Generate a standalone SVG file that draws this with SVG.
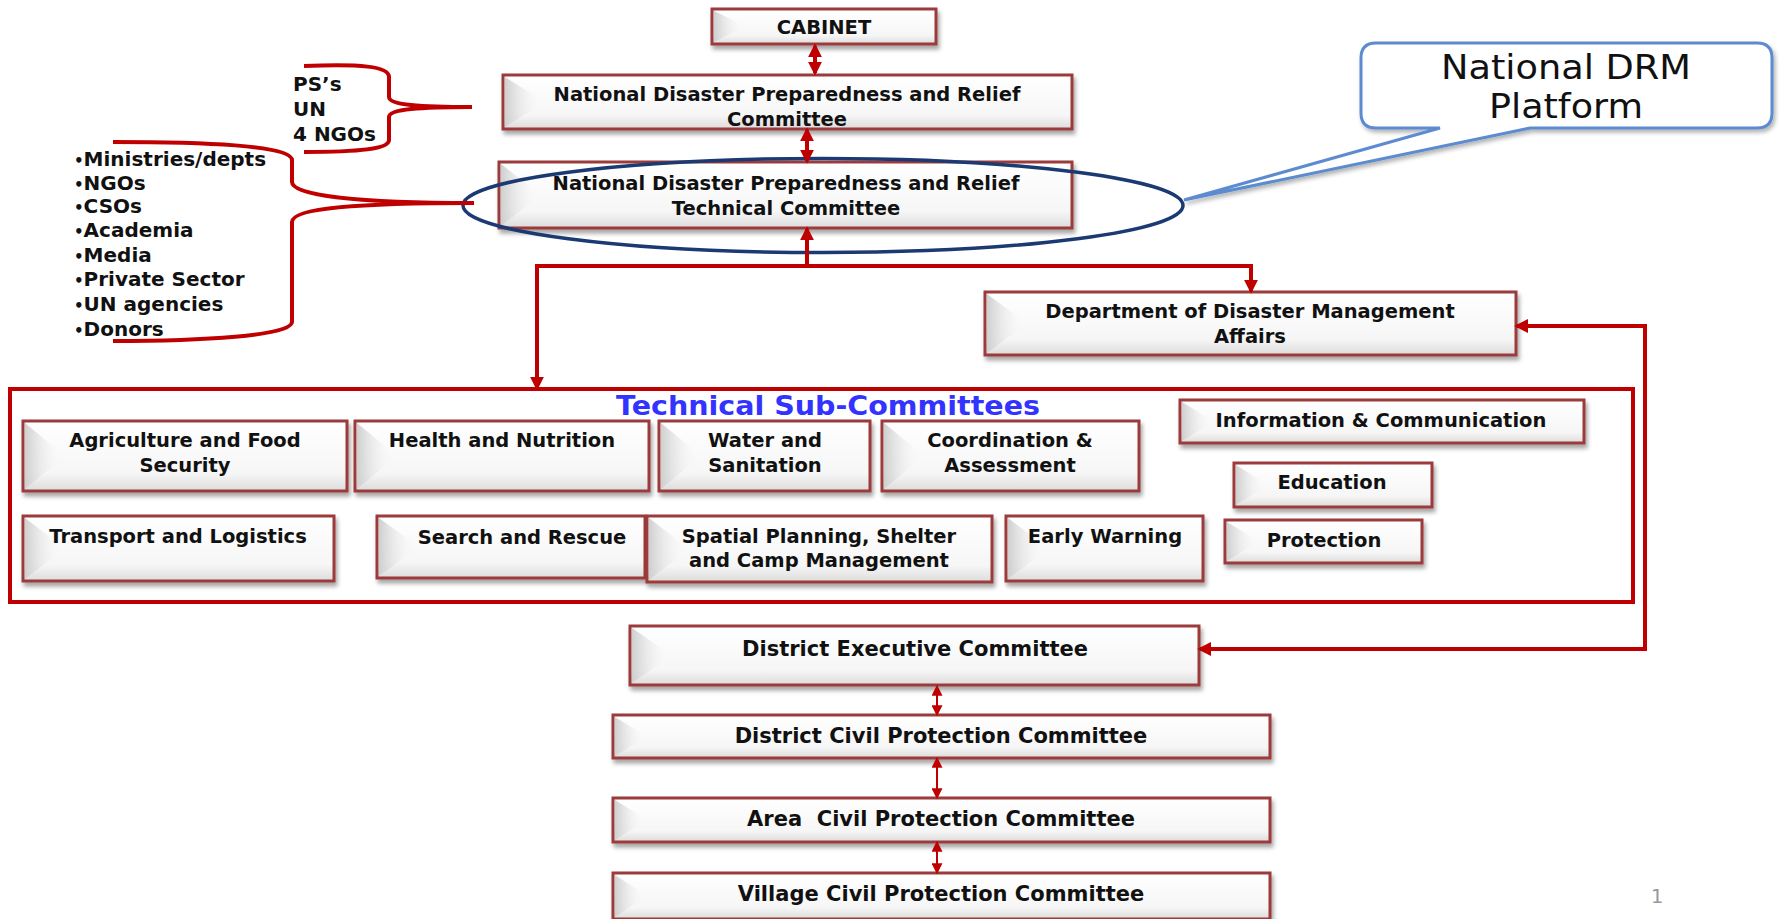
<svg xmlns="http://www.w3.org/2000/svg" width="1779" height="919" viewBox="0 0 1779 919">
<defs>
<linearGradient id="gFill" x1="0" y1="0" x2="0" y2="1">
<stop offset="0" stop-color="#ffffff"/><stop offset="0.75" stop-color="#f6f6f6"/><stop offset="1" stop-color="#dcdcdc"/>
</linearGradient>
<linearGradient id="gBev" x1="0" y1="0" x2="1" y2="0">
<stop offset="0" stop-color="#cfcfcf"/><stop offset="1" stop-color="#ffffff" stop-opacity="0"/>
</linearGradient>
<filter id="sh" x="-5%" y="-10%" width="110%" height="140%">
<feDropShadow dx="2" dy="4" stdDeviation="2" flood-color="#000" flood-opacity="0.35"/>
</filter>
<filter id="sh2" x="-5%" y="-10%" width="110%" height="140%">
<feDropShadow dx="2" dy="3" stdDeviation="2" flood-color="#000" flood-opacity="0.3"/>
</filter>
<marker id="ah" viewBox="0 0 10 10" refX="8" refY="5" markerWidth="14" markerHeight="16" markerUnits="userSpaceOnUse" orient="auto-start-reverse">
<path d="M0,0 L10,5 L0,10 z" fill="#C00000"/>
</marker>
<marker id="ahs" viewBox="0 0 10 10" refX="8" refY="5" markerWidth="12" markerHeight="11" markerUnits="userSpaceOnUse" orient="auto-start-reverse">
<path d="M0,0 L10,5 L0,10 z" fill="#C00000"/>
</marker>
<style>
.bx { fill: url(#gFill); stroke: #9B3B3A; stroke-width: 3; filter: url(#sh); }
.bev { fill: url(#gBev); }
.t { font-family: "DejaVu Sans", "Liberation Sans", sans-serif; font-weight: bold; font-size: 19.5px; fill: #111; text-anchor: middle; }
.tl { font-family: "DejaVu Sans", "Liberation Sans", sans-serif; font-weight: bold; font-size: 21px; fill: #111; text-anchor: middle; }
.side { font-family: "DejaVu Sans", "Liberation Sans", sans-serif; font-weight: bold; font-size: 20px; fill: #111; }
.bul { font-size: 15px; }
.con { fill: none; stroke: #C00000; stroke-width: 4; }
.conT { fill: none; stroke: #C00000; stroke-width: 2; }
.brace { fill: none; stroke: #C00000; stroke-width: 4; stroke-linejoin: round; }
</style>
</defs>
<rect width="1779" height="919" fill="#ffffff"/>

<g id="cabinet">
<rect class="bx" x="712" y="9" width="224" height="35"/>
<polygon class="bev" points="714,11 746,26.5 714,42"/>
<text class="t" x="824" y="34">CABINET</text>
</g>

<g id="ndprc">
<rect class="bx" x="503" y="75" width="569" height="54"/>
<polygon class="bev" points="505,77 545,102 505,127"/>
<text class="t" x="787" y="101">National Disaster Preparedness and Relief</text>
<text class="t" x="787" y="126">Committee</text>
</g>

<g id="ndprtc">
<rect class="bx" x="499" y="162" width="573" height="66"/>
<polygon class="bev" points="501,164 541,195 501,226"/>
<text class="t" x="786" y="190">National Disaster Preparedness and Relief</text>
<text class="t" x="786" y="215">Technical Committee</text>
</g>

<g id="ellipse">
<ellipse cx="823" cy="205.5" rx="360" ry="47" fill="none" stroke="#1B3A73" stroke-width="3.5"/>
</g>

<g id="drm-callout">
<path d="M1376,43 H1757 Q1772,43 1772,58 V113 Q1772,128 1757,128 H1530 L1184,200 L1440,128 H1376 Q1361,128 1361,113 V58 Q1361,43 1376,43 Z" fill="#ffffff" stroke="#5B8BD0" stroke-width="3" filter="url(#sh2)"/>
<text x="1566" y="79" font-family="DejaVu Sans, Liberation Sans, sans-serif" font-size="33" fill="#111" text-anchor="middle" textLength="250" lengthAdjust="spacingAndGlyphs">National DRM</text>
<text x="1566" y="118" font-family="DejaVu Sans, Liberation Sans, sans-serif" font-size="33" fill="#111" text-anchor="middle" textLength="154" lengthAdjust="spacingAndGlyphs">Platform</text>
</g>

<g id="dept">
<rect class="bx" x="985" y="292" width="531" height="63"/>
<polygon class="bev" points="987,294 1027,323.5 987,353"/>
<text class="t" x="1250" y="318">Department of Disaster Management</text>
<text class="t" x="1250" y="343">Affairs</text>
</g>

<g id="left-groups">
<text class="side" x="293" y="91">PS’s</text>
<text class="side" x="293" y="116">UN</text>
<text class="side" x="293" y="141">4 NGOs</text>
<path class="brace" d="M304,66 C360,64 389,66 389,77 L389,97 C389,105 420,107 472,107 M472,107 C420,107 389,109 389,117 L389,140 C389,149 360,152 304,152"/>
<text class="side" x="74" y="166"><tspan class="bul">•</tspan>Ministries/depts</text>
<text class="side" x="74" y="190"><tspan class="bul">•</tspan>NGOs</text>
<text class="side" x="74" y="213"><tspan class="bul">•</tspan>CSOs</text>
<text class="side" x="74" y="237"><tspan class="bul">•</tspan>Academia</text>
<text class="side" x="74" y="262"><tspan class="bul">•</tspan>Media</text>
<text class="side" x="74" y="286"><tspan class="bul">•</tspan>Private Sector</text>
<text class="side" x="74" y="311"><tspan class="bul">•</tspan>UN agencies</text>
<text class="side" x="74" y="336"><tspan class="bul">•</tspan>Donors</text>
<path class="brace" d="M113,142 C200,142 292,145 292,160 L292,182 C292,196 360,203 474,203 M474,203 C360,203 292,208 292,222 L292,322 C292,336 200,341 113,341"/>
</g>

<g id="sub-committees">
<rect x="10" y="389" width="1623" height="213" fill="none" stroke="#C00000" stroke-width="4"/>
<text x="828" y="415" font-family="DejaVu Sans, Liberation Sans, sans-serif" font-weight="bold" font-size="27" fill="#3333FF" text-anchor="middle" textLength="424" lengthAdjust="spacingAndGlyphs">Technical Sub-Committees</text>
</g>

<g id="agri">
<rect class="bx" x="23" y="421" width="324" height="70"/>
<polygon class="bev" points="25,423 65,456 25,489"/>
<text class="t" x="185" y="447">Agriculture and Food</text>
<text class="t" x="185" y="472">Security</text>
</g>
<g id="health">
<rect class="bx" x="355" y="421" width="294" height="70"/>
<polygon class="bev" points="357,423 397,456 357,489"/>
<text class="t" x="502" y="447">Health and Nutrition</text>
</g>
<g id="water">
<rect class="bx" x="659" y="421" width="211" height="70"/>
<polygon class="bev" points="661,423 701,456 661,489"/>
<text class="t" x="765" y="447">Water and</text>
<text class="t" x="765" y="472">Sanitation</text>
</g>
<g id="coord">
<rect class="bx" x="882" y="421" width="257" height="70"/>
<polygon class="bev" points="884,423 924,456 884,489"/>
<text class="t" x="1010" y="447">Coordination &amp;</text>
<text class="t" x="1010" y="472">Assessment</text>
</g>
<g id="info">
<rect class="bx" x="1180" y="400" width="404" height="43"/>
<polygon class="bev" points="1182,402 1214,421.5 1182,441"/>
<text class="t" x="1381" y="427">Information &amp; Communication</text>
</g>
<g id="education">
<rect class="bx" x="1234" y="463" width="198" height="44"/>
<polygon class="bev" points="1236,465 1268,485 1236,505"/>
<text class="t" x="1332" y="489">Education</text>
</g>
<g id="transport">
<rect class="bx" x="23" y="516" width="311" height="65"/>
<polygon class="bev" points="25,518 65,548.5 25,579"/>
<text class="t" x="178" y="543">Transport and Logistics</text>
</g>
<g id="search">
<rect class="bx" x="377" y="516" width="268" height="62"/>
<polygon class="bev" points="379,518 419,547 379,576"/>
<text class="t" x="522" y="544">Search and Rescue</text>
</g>
<g id="spatial">
<rect class="bx" x="647" y="516" width="345" height="66"/>
<polygon class="bev" points="649,518 689,549 649,580"/>
<text class="t" x="819" y="543">Spatial Planning, Shelter</text>
<text class="t" x="819" y="567">and Camp Management</text>
</g>
<g id="early">
<rect class="bx" x="1006" y="516" width="197" height="65"/>
<polygon class="bev" points="1008,518 1048,548.5 1008,579"/>
<text class="t" x="1105" y="543">Early Warning</text>
</g>
<g id="protection">
<rect class="bx" x="1225" y="520" width="197" height="43"/>
<polygon class="bev" points="1227,522 1259,541.5 1227,561"/>
<text class="t" x="1324" y="547">Protection</text>
</g>

<g id="dec">
<rect class="bx" x="630" y="626" width="569" height="59"/>
<polygon class="bev" points="632,628 672,655.5 632,683"/>
<text class="tl" x="915" y="656">District Executive Committee</text>
</g>
<g id="dcpc">
<rect class="bx" x="613" y="715" width="657" height="43"/>
<polygon class="bev" points="615,717 647,736.5 615,756"/>
<text class="tl" x="941" y="743">District Civil Protection Committee</text>
</g>
<g id="acpc">
<rect class="bx" x="613" y="798" width="657" height="44"/>
<polygon class="bev" points="615,800 647,820 615,840"/>
<text class="tl" x="941" y="826" style="white-space:pre">Area  Civil Protection Committee</text>
</g>
<g id="vcpc">
<rect class="bx" x="613" y="873" width="657" height="46"/>
<polygon class="bev" points="615,875 647,896 615,917"/>
<text class="tl" x="941" y="901">Village Civil Protection Committee</text>
</g>

<g id="page-number">
<text x="1657" y="903" font-family="DejaVu Sans, Liberation Sans, sans-serif" font-size="20" fill="#999999" text-anchor="middle">1</text>
</g>

<g id="connectors">
<path class="con" d="M815,46 V73" marker-start="url(#ah)" marker-end="url(#ah)"/>
<path class="con" d="M807,130 V161" marker-start="url(#ah)" marker-end="url(#ah)"/>
<path class="con" d="M807,266 V229" marker-end="url(#ah)"/>
<path class="con" d="M537,388 V266 H1251 V291" marker-end="url(#ah)"/>
<path class="con" d="M537,266 V388" marker-end="url(#ah)"/>
<path class="con" d="M1517,326 H1645 V649 H1200" marker-start="url(#ah)" marker-end="url(#ah)"/>
<path class="conT" d="M937,687 V714" marker-start="url(#ahs)" marker-end="url(#ahs)"/>
<path class="conT" d="M937,759 V797" marker-start="url(#ahs)" marker-end="url(#ahs)"/>
<path class="conT" d="M937,843 V872" marker-start="url(#ahs)" marker-end="url(#ahs)"/>
</g>
</svg>
